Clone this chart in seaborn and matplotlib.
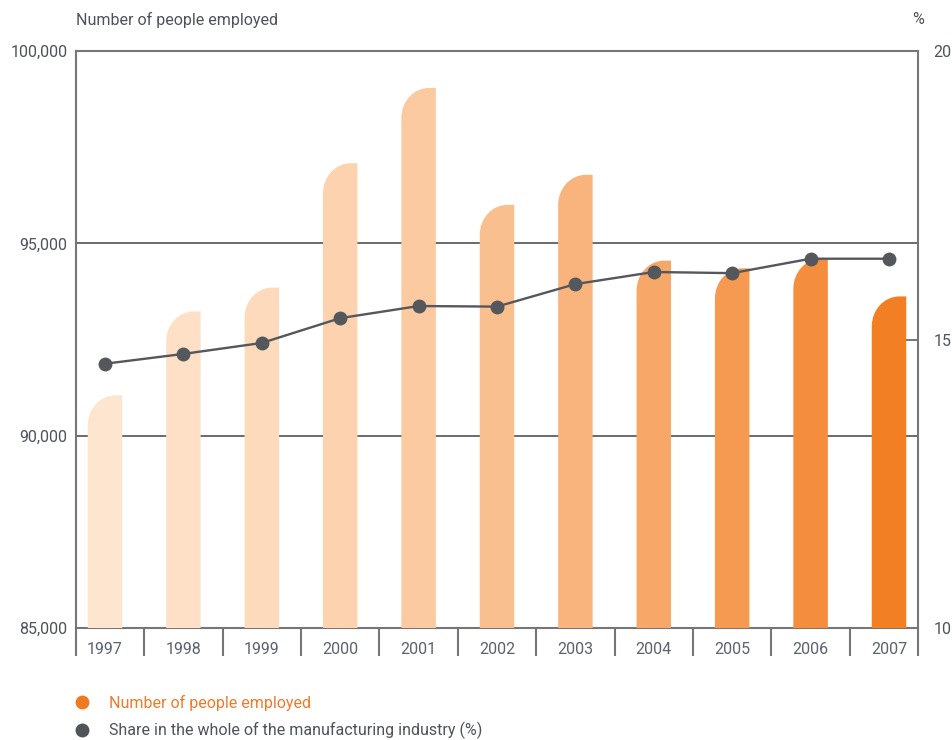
import numpy as np
import pandas as pd
import matplotlib
matplotlib.use("Agg")
import matplotlib.pyplot as plt
from matplotlib.path import Path
from matplotlib.patches import PathPatch
from matplotlib.lines import Line2D
import seaborn as sns

# ---- data -------------------------------------------------------------
years = ["1997", "1998", "1999", "2000", "2001", "2002",
         "2003", "2004", "2005", "2006", "2007"]
employed = [91050, 93230, 93850, 97080, 99040, 96000,
            96780, 94550, 94350, 94600, 93620]
share_pct = [14.58, 14.75, 14.94, 15.37, 15.58, 15.57,
             15.96, 16.17, 16.15, 16.40, 16.40]

left_ticks = [85000, 90000, 95000, 100000]
left_labels = ["85,000", "90,000", "95,000", "100,000"]
right_ticks = [10, 15, 20]
right_labels = ["10", "15", "20"]

# ---- style ------------------------------------------------------------
sns.set_style("white")
plt.rcParams["font.family"] = ["Roboto", "DejaVu Sans"]

bar_colors = ["#FDE5D0", "#FDE0C6", "#FCDABB", "#FCD3AE", "#FBCAA0",
              "#FABF8E", "#F9B47D", "#F7A767", "#F69A52", "#F58D3E",
              "#F37F24"]
text_col = "#4d525c"
frame_col = "#767676"
line_col = "#54585c"
orange_txt = "#F07A2A"

df = pd.DataFrame({"year": years, "employed": employed,
                   "share": share_pct, "pos": np.arange(len(years))})

fig = plt.figure(figsize=(9.52, 7.40), dpi=100)
ax = fig.add_axes([76 / 952, 1 - 628 / 740, (918 - 76) / 952, (628 - 51) / 740])

bar_w = 0.44
sns.barplot(data=df, x="year", y="employed", hue="year",
            palette=bar_colors, width=bar_w, legend=False,
            saturation=1, ax=ax, zorder=3)

ax.set_ylim(85000, 100000)
ax.set_xlim(-0.37, len(years) - 1 + 0.37)

# bars with a rounded top-left corner
ry = 30 * (15000 / 577)          # ~30 px expressed in data units
k = 0.5523
for p in list(ax.patches):
    x0, w, top = p.get_x(), p.get_width(), p.get_height()
    fc = p.get_facecolor()
    rx = 0.8 * w
    bottom = 80000
    verts = [(x0, bottom), (x0, top - ry),
             (x0, top - ry + ry * k), (x0 + rx - rx * k, top), (x0 + rx, top),
             (x0 + w, top), (x0 + w, bottom), (x0, bottom)]
    codes = [Path.MOVETO, Path.LINETO,
             Path.CURVE4, Path.CURVE4, Path.CURVE4,
             Path.LINETO, Path.LINETO, Path.CLOSEPOLY]
    ax.add_patch(PathPatch(Path(verts, codes), facecolor=fc,
                           edgecolor="none", zorder=3))
    p.remove()

# horizontal reference lines
for yv in [90000, 95000]:
    ax.axhline(yv, color="#6a6a6a", lw=1.4, zorder=1)

ax.set_yticks(left_ticks)
ax.set_yticklabels(left_labels)
ax.tick_params(axis="y", left=True, length=0, pad=6, labelsize=11.5,
               labelcolor=text_col)

# x axis: separators below the frame, year labels centred
n = len(years)
edges = [-0.37] + [i + 0.5 for i in range(n - 1)] + [n - 1 + 0.37]
ax.set_xticks(edges)
ax.set_xticklabels([""] * len(edges))
ax.set_xticks(np.arange(n), minor=True)
ax.set_xticklabels(years, minor=True)
ax.tick_params(axis="x", which="major", bottom=True, direction="out",
               length=20, width=1.5, color=frame_col)
ax.tick_params(axis="x", which="minor", bottom=True, length=0, pad=10,
               labelsize=11.5, labelcolor="#5a6270")
ax.set_xlabel("")
ax.set_ylabel("")

for s in ax.spines.values():
    s.set_color(frame_col)
    s.set_linewidth(1.5)
    s.set_visible(True)

# share line on the right axis
ax2 = ax.twinx()
sns.lineplot(data=df, x="pos", y="share", ax=ax2, color=line_col,
             lw=1.7, marker="o", markersize=10, markeredgewidth=0,
             zorder=5)
ax2.set_ylim(10, 20)
ax2.set_xlim(ax.get_xlim())
ax2.set_yticks(right_ticks)
ax2.set_yticklabels(right_labels)
ax2.tick_params(axis="y", right=True, direction="in", length=9, width=1.4,
                color=frame_col, pad=11, labelsize=11.5, labelcolor=text_col)
ax2.set_ylabel("")
ax2.set_xlabel("")
for s in ax2.spines.values():
    s.set_visible(False)

fig.text(76 / 952, 1 - 20 / 740, "Number of people employed",
         ha="left", va="center", fontsize=11.5, color=text_col)
fig.text(918 / 952, 1 - 20 / 740, "%", ha="center", va="center",
         fontsize=11.5, color=text_col)

# legend
handles = [Line2D([], [], ls="none", marker="o", markersize=10,
                  color="#F07A24", markeredgewidth=0),
           Line2D([], [], ls="none", marker="o", markersize=10,
                  color="#4f5458", markeredgewidth=0)]
leg = fig.legend(handles,
                 ["Number of people employed",
                  "Share in the whole of the manufacturing industry (%)"],
                 loc="upper left", bbox_to_anchor=(74 / 952, 1 - 695 / 740),
                 frameon=False, fontsize=11.5, handlelength=1.0,
                 handletextpad=1.2, labelspacing=0.7, borderaxespad=0,
                 borderpad=0)
leg.get_texts()[0].set_color(orange_txt)
leg.get_texts()[1].set_color(text_col)

fig.savefig("out.png", dpi=100)
